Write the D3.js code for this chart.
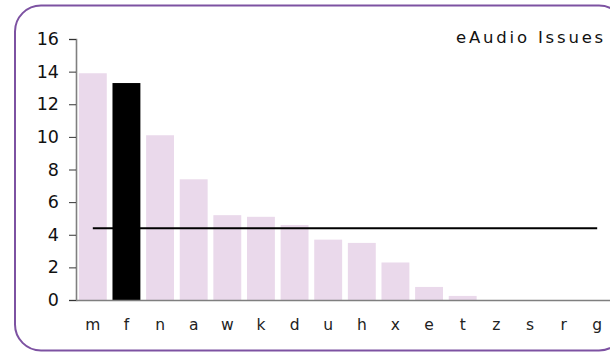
<!DOCTYPE html>
<html>
<head>
<meta charset="utf-8">
<script src="https://cdn.jsdelivr.net/npm/d3@7"></script>
<style>
  body { margin: 0; background: #fff; }
  svg { display: block; font-family: "DejaVu Sans", sans-serif; }
</style>
</head>
<body>
<svg id="chart" width="610" height="354"></svg>
<script>
const categories = ["m", "f", "n", "a", "w", "k", "d", "u", "h", "x", "e", "t", "z", "s", "r", "g"];
const issues = [13.9, 13.3, 10.1, 7.4, 5.2, 5.1, 4.6, 3.7, 3.5, 2.3, 0.8, 0.25, 0, 0, 0, 0];
const highlighted = ["f"];
const averageValue = 4.4;
const yTicks = [0, 2, 4, 6, 8, 10, 12, 14, 16];
const title = "eAudio Issues";

const svg = d3.select("#chart");

// frame
svg.append("rect")
    .attr("x", 15)
    .attr("y", 5.5)
    .attr("width", 610)
    .attr("height", 345)
    .attr("rx", 26)
    .attr("fill", "none")
    .attr("stroke", "#7d52a2")
    .attr("stroke-width", 2);

const x = d3.scaleBand()
    .domain(categories)
    .range([76, 614])
    .paddingInner(0.17)
    .paddingOuter(0.085);

const y = d3.scaleLinear()
    .domain([0, 16])
    .range([300, 39]);

// bars
svg.selectAll("rect.bar")
    .data(categories)
    .join("rect")
    .attr("class", "bar")
    .attr("x", d => x(d))
    .attr("width", x.bandwidth())
    .attr("y", (d, i) => y(issues[i]))
    .attr("height", (d, i) => y(0) - y(issues[i]))
    .attr("fill", d => highlighted.includes(d) ? "#000" : "#ead9eb");

// average line
svg.append("line")
    .attr("x1", x(categories[0]) + x.bandwidth() / 2)
    .attr("x2", x(categories[categories.length - 1]) + x.bandwidth() / 2)
    .attr("y1", y(averageValue))
    .attr("y2", y(averageValue))
    .attr("stroke", "#000")
    .attr("stroke-width", 2.2);

// y axis
const yAxis = svg.append("g")
    .attr("transform", "translate(76,0)")
    .call(d3.axisLeft(y).tickValues(yTicks).tickSize(7).tickPadding(10));
yAxis.select(".domain").attr("stroke", "#7f7f7f").attr("stroke-width", 1.6);
yAxis.selectAll(".tick line").attr("stroke", "#333");
yAxis.selectAll("text")
    .attr("font-size", 17.5)
    .attr("fill", "#111")
    .attr("font-family", "DejaVu Sans, sans-serif");

// x axis
const xAxis = svg.append("g")
    .attr("transform", "translate(0,300)")
    .call(d3.axisBottom(x).tickSize(0).tickPadding(19));
xAxis.select(".domain").attr("stroke", "#7f7f7f").attr("stroke-width", 1.4);
xAxis.selectAll("text")
    .attr("font-size", 15.5)
    .attr("fill", "#222")
    .attr("font-family", "DejaVu Sans, sans-serif");

// title
svg.append("text")
    .attr("x", 606)
    .attr("y", 43)
    .attr("text-anchor", "end")
    .attr("font-size", 16.5)
    .attr("letter-spacing", 2.8)
    .attr("fill", "#111")
    .text(title);
</script>
</body>
</html>
